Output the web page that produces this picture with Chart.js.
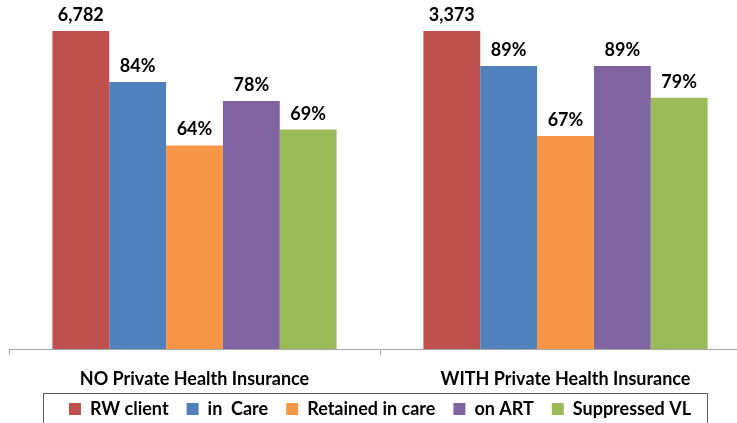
<!DOCTYPE html>
<html>
<head>
<meta charset="utf-8">
<script src="https://cdn.jsdelivr.net/npm/chart.js@4/dist/chart.umd.min.js"></script>
<style>
  html, body { margin: 0; padding: 0; background: #ffffff; overflow: hidden; width: 737px; height: 423px; }
  #wrap { position: relative; width: 752px; height: 440px; }
</style>
</head>
<body>
<div id="wrap"><canvas id="c" width="752" height="440"></canvas></div>
<script>
// ---- data ----
const categories = ['NO Private Health Insurance', 'WITH Private Health Insurance'];
const seriesNames = ['RW client', 'in  Care', 'Retained in care', 'on ART', 'Suppressed VL'];
const rwClientCounts = [6782, 3373];
const rwClientPct = [100, 100];
const inCarePct = [84, 89];
const retainedPct = [64, 67];
const onArtPct = [78, 89];
const suppressedPct = [69, 79];
const seriesColors = ['#C0504D', '#4F81BD', '#F79646', '#8064A2', '#9BBB59'];

const FONT = 'Lato, "Open Sans", sans-serif';

const values = [rwClientPct, inCarePct, retainedPct, onArtPct, suppressedPct];
const datasets = values.map((v, i) => ({
  label: seriesNames[i],
  data: v,
  backgroundColor: seriesColors[i],
  borderWidth: 0,
  categoryPercentage: 0.766,
  barPercentage: 1.0
}));

const labelPlugin = {
  id: 'barLabels',
  afterDatasetsDraw(chart) {
    const ctx = chart.ctx;
    ctx.save();
    ctx.font = 'bold 18px ' + FONT;
    ctx.fillStyle = '#000000';
    ctx.textAlign = 'center';
    ctx.textBaseline = 'alphabetic';
    chart.data.datasets.forEach((ds, di) => {
      const meta = chart.getDatasetMeta(di);
      meta.data.forEach((bar, i) => {
        const txt = di === 0 ? rwClientCounts[i].toLocaleString('en-US') : ds.data[i] + '%';
        ctx.fillText(txt, bar.x, bar.y - 10);
      });
    });
    ctx.restore();
  }
};

const legendBoxPlugin = {
  id: 'legendBox',
  afterDraw(chart) {
    const lg = chart.legend;
    if (!lg || !lg.legendHitBoxes || !lg.legendHitBoxes.length) return;
    const hb = lg.legendHitBoxes;
    let l = Infinity, r = -Infinity, t = Infinity;
    hb.forEach(b => { l = Math.min(l, b.left); r = Math.max(r, b.left + b.width); t = Math.min(t, b.top); });
    const ctx = chart.ctx;
    ctx.save();
    ctx.strokeStyle = '#5a5a5a';
    ctx.lineWidth = 1;
    ctx.strokeRect(Math.round(l - 26) + 0.5, Math.round(t - 7) + 0.5, Math.round(r - l + 42), 60);
    ctx.restore();
  }
};

new Chart(document.getElementById('c'), {
  type: 'bar',
  data: { labels: categories, datasets },
  plugins: [labelPlugin, legendBoxPlugin],
  options: {
    responsive: false,
    animation: false,
    layout: { padding: { left: 9, right: 1, top: 31, bottom: 12 } },
    plugins: {
      tooltip: { enabled: false },
      legend: {
        position: 'bottom',
        labels: {
          boxWidth: 12,
          boxHeight: 12,
          padding: 18,
          color: '#000000',
          font: { family: FONT, size: 18, weight: 'bold' }
        }
      }
    },
    scales: {
      x: {
        afterFit(scale) {
          scale.height -= 21;
          scale._computeLabelArea = () => undefined;
        },
        grid: { offset: true, drawOnChartArea: false, drawTicks: true, tickLength: 6, color: '#a6a6a6' },
        border: { display: true, color: '#a6a6a6', width: 1 },
        ticks: { color: '#000000', padding: 15, maxRotation: 0, font: { family: FONT, size: 18, weight: 'bold', lineHeight: 1.0 } }
      },
      y: {
        display: false,
        min: 0,
        max: 100
      }
    }
  }
});
</script>
</body>
</html>
